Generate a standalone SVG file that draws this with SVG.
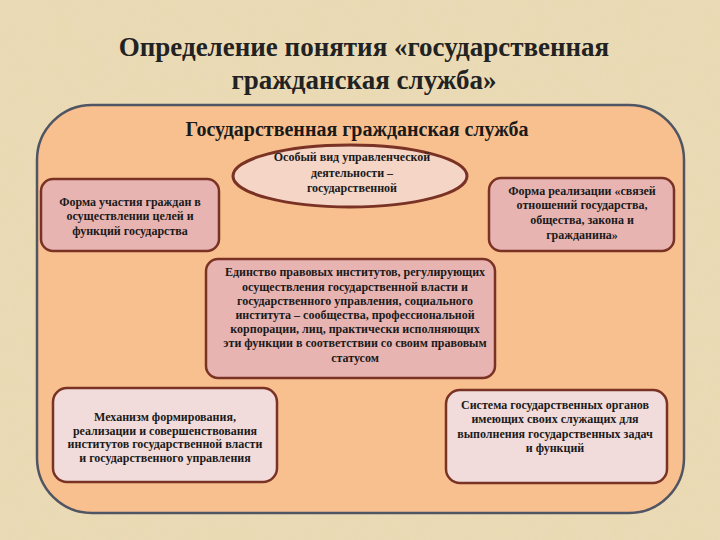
<svg xmlns="http://www.w3.org/2000/svg" width="720" height="540" viewBox="0 0 720 540">
<style>
text{font-family:"Liberation Serif","Times New Roman",serif;font-weight:bold;fill:#1a1a1a;text-anchor:middle}
.title{font-size:27px;fill:#222}
.sub{font-size:20px}
.t{font-size:12px}
.box{fill:#e8b4b2;stroke:#7a3224;stroke-width:2.5}
.box2{fill:#f2dcdb;stroke:#7a3224;stroke-width:2.5}
</style>
<defs>
<filter id="paper" x="0" y="0" width="100%" height="100%">
<feTurbulence type="fractalNoise" baseFrequency="0.04" numOctaves="3" seed="3" result="n"/>
<feColorMatrix in="n" type="matrix" values="0 0 0 0 0.80  0 0 0 0 0.70  0 0 0 0 0.50  0 0 0 0.9 -0.25" result="c"/>
<feComposite in="c" in2="SourceGraphic" operator="in"/>
</filter>
</defs>
<rect x="0" y="0" width="720" height="540" fill="#eadab4"/>
<rect x="0" y="0" width="720" height="540" fill="#eadab4" filter="url(#paper)" opacity="0.6"/>
<g id="title">
<text class="title" x="364" y="56">Определение понятия «государственная</text>
<text class="title" x="364" y="89">гражданская служба»</text>
</g>
<g id="container">
<rect x="37" y="105" width="647" height="408" rx="55" ry="55" fill="#f8c08f" stroke="#4f5563" stroke-width="2.5"/>
<text class="sub" x="357" y="136">Государственная гражданская служба</text>
</g>
<g id="connectors"></g>
<g id="ellipse">
<ellipse cx="350" cy="176" rx="117" ry="31" fill="#f4d5c6" stroke="#7a3224" stroke-width="3"/>
<text class="t" x="352" y="161">Особый вид управленческой</text>
<text class="t" x="352" y="177">деятельности –</text>
<text class="t" x="352" y="192">государственной</text>
</g>
<g id="left">
<rect class="box" x="41" y="179" width="178" height="72" rx="12"/>
<text class="t" x="130" y="206">Форма участия граждан в</text>
<text class="t" x="130" y="220">осуществлении целей и</text>
<text class="t" x="130" y="235">функций государства</text>
</g>
<g id="right">
<rect class="box" x="489" y="178" width="185" height="73" rx="12"/>
<text class="t" x="582" y="195">Форма реализации «связей</text>
<text class="t" x="582" y="209">отношений государства,</text>
<text class="t" x="582" y="224">общества, закона и</text>
<text class="t" x="582" y="239">гражданина»</text>
</g>
<g id="center">
<rect class="box" x="206" y="259" width="289" height="119" rx="12"/>
<text class="t" x="355" y="276">Единство правовых институтов, регулирующих</text>
<text class="t" x="355" y="291">осуществления государственной власти и</text>
<text class="t" x="355" y="305">государственного управления, социального</text>
<text class="t" x="355" y="319">института – сообщества, профессиональной</text>
<text class="t" x="355" y="333">корпорации, лиц, практически исполняющих</text>
<text class="t" x="355" y="347">эти функции в соответствии со своим правовым</text>
<text class="t" x="355" y="362">статусом</text>
</g>
<g id="bottom-left">
<rect class="box2" x="53" y="388" width="224" height="94" rx="14"/>
<text class="t" x="165" y="421">Механизм формирования,</text>
<text class="t" x="165" y="435">реализации и совершенствования</text>
<text class="t" x="165" y="448">институтов государственной власти</text>
<text class="t" x="165" y="462">и государственного управления</text>
</g>
<g id="bottom-right">
<rect class="box2" x="446" y="390" width="221" height="93" rx="14"/>
<text class="t" x="555" y="409">Система государственных органов</text>
<text class="t" x="555" y="423">имеющих своих служащих для</text>
<text class="t" x="555" y="438">выполнения государственных задач</text>
<text class="t" x="555" y="452">и функций</text>
</g>
</svg>
